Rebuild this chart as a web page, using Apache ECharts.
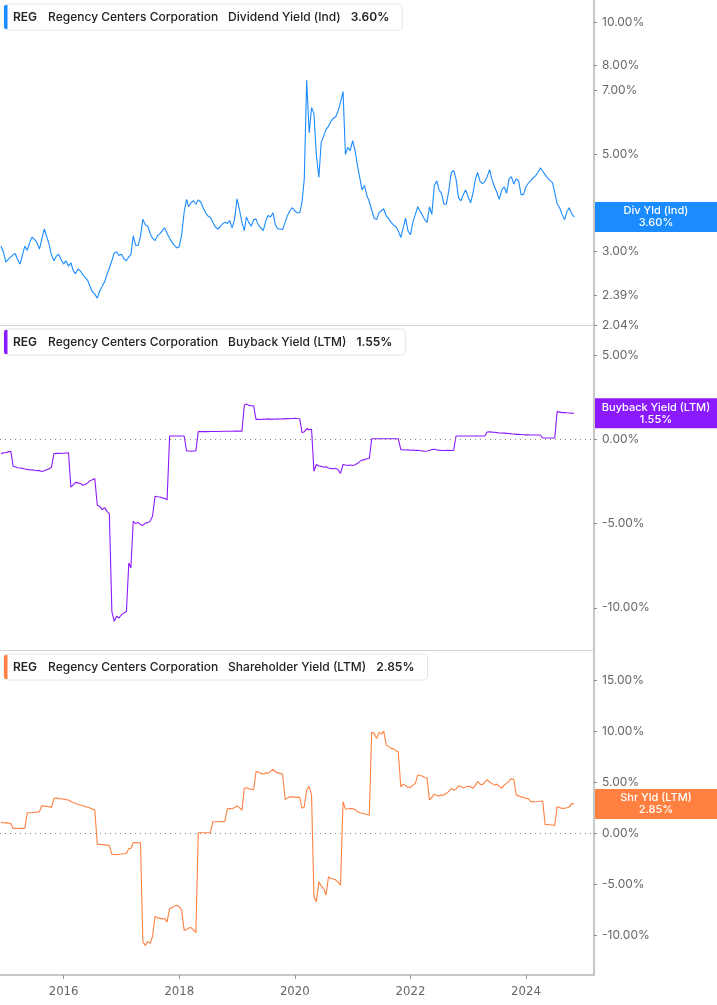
<!DOCTYPE html>
<html>
<head>
<meta charset="utf-8">
<script src="https://cdn.jsdelivr.net/npm/echarts@6/dist/echarts.min.js"></script>
<style>
html, body { margin: 0; padding: 0; background: #fff; }
#chart { width: 717px; height: 1005px; }
</style>
</head>
<body>
<div id="chart"></div>
<script>
// sample dates: 1st and 16th of each month, Dec 2014 .. Nov 2024
const dates = [];
for (let m = 0; m < 120; m++) {
    dates.push(Date.UTC(2014, 11 + m, 1));
    dates.push(Date.UTC(2014, 11 + m, 16));
}

// Dividend Yield (Ind), %
const divYield = [
    3.09, 3.00, 2.84, 2.88, 2.92, 2.95, 2.97, 2.88, 2.81, 2.95,
    3.09, 3.02, 3.15, 3.24, 3.20, 3.15, 3.04, 3.20, 3.38, 3.25,
    3.12, 2.95, 2.86, 2.93, 2.96, 2.88, 2.81, 2.86, 2.78, 2.83,
    2.72, 2.67, 2.74, 2.71, 2.66, 2.62, 2.58, 2.50, 2.43, 2.40,
    2.35, 2.44, 2.50, 2.56, 2.66, 2.75, 2.86, 2.98, 3.00, 2.94,
    2.96, 2.89, 2.86, 2.92, 2.95, 3.26, 3.10, 3.10, 3.25, 3.56,
    3.45, 3.43, 3.30, 3.22, 3.18, 3.26, 3.30, 3.35, 3.40, 3.30,
    3.22, 3.15, 3.10, 3.06, 3.08, 3.28, 3.70, 3.95, 3.80, 3.88,
    3.92, 3.85, 3.94, 3.90, 3.78, 3.68, 3.62, 3.59, 3.50, 3.42,
    3.38, 3.42, 3.47, 3.50, 3.48, 3.53, 3.40, 3.55, 3.96, 3.75,
    3.50, 3.35, 3.60, 3.50, 3.43, 3.55, 3.56, 3.45, 3.40, 3.35,
    3.52, 3.63, 3.60, 3.68, 3.45, 3.38, 3.38, 3.37, 3.50, 3.63,
    3.72, 3.78, 3.72, 3.68, 3.68, 3.90, 4.40, 7.39, 5.60, 6.40,
    6.20, 5.00, 4.43, 5.33, 5.50, 5.70, 5.80, 5.95, 6.05, 6.10,
    6.30, 6.58, 6.96, 5.00, 5.19, 5.10, 5.38, 5.10, 4.70, 4.40,
    4.15, 4.25, 4.03, 3.90, 3.74, 3.58, 3.55, 3.68, 3.72, 3.76,
    3.62, 3.57, 3.50, 3.45, 3.42, 3.35, 3.23, 3.40, 3.58, 3.35,
    3.28, 3.50, 3.65, 3.80, 3.72, 3.65, 3.55, 3.50, 3.80, 3.65,
    4.25, 4.35, 4.15, 4.08, 3.85, 3.85, 4.15, 4.55, 4.60, 4.40,
    3.98, 3.92, 4.05, 4.15, 4.00, 3.88, 4.10, 4.40, 4.55, 4.35,
    4.29, 4.33, 4.45, 4.62, 4.38, 4.22, 4.10, 3.95, 4.15, 4.22,
    4.08, 4.40, 4.45, 4.28, 4.40, 4.35, 4.05, 4.05, 4.22, 4.30,
    4.36, 4.42, 4.47, 4.55, 4.66, 4.58, 4.50, 4.42, 4.36, 4.32,
    4.10, 3.86, 3.78, 3.65, 3.55, 3.70, 3.78, 3.66, 3.60
];

// Buyback Yield (LTM), %
const buybackYield = [
    -0.85, -0.80, -0.78, -0.74, -0.70, -1.59, -1.62, -1.68, -1.70, -1.72,
    -1.76, -1.78, -1.82, -1.80, -1.83, -1.86, -1.84, -1.90, -1.86, -1.80,
    -1.75, -1.65, -0.85, -0.83, -0.83, -0.82, -0.82, -0.81, -0.80, -2.84,
    -2.70, -2.55, -2.58, -2.62, -2.72, -2.68, -2.58, -2.45, -2.40, -2.32,
    -3.91, -3.98, -4.17, -4.05, -4.27, -4.40, -10.22, -10.80, -10.50, -10.60,
    -10.40, -10.30, -10.22, -7.34, -7.63, -4.86, -5.00, -4.92, -5.06, -5.10,
    -4.96, -4.94, -4.85, -4.56, -3.37, -3.40, -3.42, -3.47, -3.50, -3.60,
    0.20, 0.20, 0.20, 0.20, 0.20, 0.20, 0.20, -0.69, -0.69, -0.70,
    -0.69, -0.69, 0.46, 0.46, 0.46, 0.46, 0.46, 0.47, 0.47, 0.47,
    0.47, 0.47, 0.48, 0.48, 0.48, 0.48, 0.48, 0.49, 0.49, 0.49,
    0.49, 2.04, 2.10, 2.02, 2.00, 2.00, 1.19, 1.20, 1.18, 1.21,
    1.20, 1.22, 1.19, 1.21, 1.20, 1.22, 1.21, 1.23, 1.22, 1.24,
    1.23, 1.24, 1.25, 1.24, 1.23, 0.40, 0.45, 0.64, 0.58, 0.60,
    -1.89, -1.49, -1.58, -1.60, -1.65, -1.62, -1.70, -1.72, -1.74, -1.72,
    -1.80, -2.02, -1.49, -1.52, -1.55, -1.52, -1.55, -1.50, -1.42, -1.30,
    -1.23, -1.20, -1.15, -1.13, 0.04, 0.04, 0.04, 0.04, 0.04, 0.04,
    0.04, 0.04, 0.04, 0.04, 0.04, 0.04, -0.60, -0.62, -0.63, -0.62,
    -0.64, -0.63, -0.65, -0.64, -0.66, -0.68, -0.70, -0.69, -0.66, -0.60,
    -0.58, -0.62, -0.64, -0.65, -0.66, -0.64, -0.65, -0.66, -0.66, 0.20,
    0.20, 0.20, 0.20, 0.20, 0.20, 0.20, 0.20, 0.20, 0.20, 0.20,
    0.20, 0.20, 0.44, 0.45, 0.43, 0.42, 0.40, 0.38, 0.38, 0.37,
    0.36, 0.35, 0.33, 0.32, 0.30, 0.30, 0.29, 0.28, 0.27, 0.27,
    0.26, 0.26, 0.26, 0.26, 0.26, 0.08, 0.08, 0.08, 0.08, 0.08,
    0.08, 1.65, 1.62, 1.59, 1.60, 1.58, 1.57, 1.56, 1.55
];

// Shareholder Yield (LTM), %
const shareholderYield = [
    1.05, 1.02, 1.00, 0.98, 0.95, 0.46, 0.46, 0.45, 0.46, 0.46,
    0.47, 1.99, 2.00, 2.02, 2.05, 2.06, 2.09, 2.68, 2.65, 2.62,
    2.58, 2.52, 3.40, 3.45, 3.38, 3.36, 3.32, 3.28, 3.24, 3.10,
    3.00, 2.90, 2.81, 2.75, 2.70, 2.58, 2.55, 2.45, 2.35, 2.28,
    -1.08, -1.10, -1.12, -1.15, -1.18, -1.20, -2.09, -2.10, -2.12, -2.08,
    -2.05, -2.02, -2.00, -1.50, -1.50, -0.95, -0.92, -0.94, -0.95, -10.66,
    -11.00, -10.60, -10.80, -10.10, -8.14, -8.30, -8.35, -8.40, -8.37, -8.69,
    -7.38, -7.30, -7.15, -7.06, -7.20, -7.55, -9.51, -9.45, -9.30, -9.25,
    -9.50, -9.74, 0.03, 0.03, 0.03, 0.03, 0.03, 0.03, 1.11, 1.11,
    1.12, 1.12, 1.13, 1.14, 2.38, 2.40, 2.38, 2.50, 2.65, 2.50,
    2.25, 4.38, 4.45, 4.35, 4.30, 4.25, 6.01, 6.00, 5.85, 5.79,
    5.90, 5.85, 6.05, 6.24, 6.00, 5.90, 5.85, 5.79, 3.30, 3.45,
    3.56, 3.55, 3.52, 3.50, 3.50, 2.42, 2.58, 4.22, 4.58, 3.70,
    -6.24, -6.73, -4.77, -5.20, -5.42, -6.08, -4.28, -4.44, -4.50, -4.60,
    -4.80, -5.10, 3.07, 2.35, 2.38, 2.42, 2.38, 2.30, 2.10, 1.99,
    1.95, 1.90, 1.82, 1.76, 9.87, 9.80, 9.28, 9.87, 9.70, 10.00,
    8.63, 8.50, 8.30, 8.25, 8.10, 7.97, 4.54, 4.80, 4.65, 4.50,
    4.48, 4.70, 4.87, 5.69, 5.65, 5.60, 5.45, 5.40, 3.24, 3.50,
    3.82, 3.70, 3.65, 3.72, 3.73, 3.90, 4.10, 4.38, 4.20, 4.30,
    4.64, 4.55, 4.45, 4.51, 4.60, 4.55, 4.40, 4.70, 5.08, 4.80,
    4.75, 5.00, 5.24, 5.00, 4.85, 4.70, 4.80, 4.60, 4.38, 4.70,
    4.90, 5.10, 5.36, 5.25, 3.73, 3.65, 3.55, 3.50, 3.40, 3.37,
    3.07, 3.10, 3.05, 3.10, 3.12, 3.14, 0.85, 0.84, 0.82, 0.80,
    0.76, 2.58, 2.50, 2.42, 2.45, 2.48, 2.55, 2.91, 2.85
];

const divTicks = [2.04, 2.39, 3, 5, 7, 8, 10];
const buybackTicks = [-10, -5, 0, 5];
const shrTicks = [-10, -5, 0, 5, 10, 15];
const yearTicks = [2016, 2018, 2020, 2022, 2024];

const panels = [
    { name: 'Dividend Yield (Ind)', short: 'Div Yld (Ind)', color: '#1a8cff', data: divYield, top: 0, legendTop: 4 },
    { name: 'Buyback Yield (LTM)', short: 'Buyback Yield (LTM)', color: '#8c1aff', data: buybackYield, top: 325, legendTop: 329 },
    { name: 'Shareholder Yield (LTM)', short: 'Shr Yld (LTM)', color: '#ff8040', data: shareholderYield, top: 650, legendTop: 654 }
];

const xMin = Date.UTC(2014, 10, 25);
const xMax = Date.UTC(2025, 2, 6);
const yearStarts = yearTicks.map(y => Date.UTC(y, 0, 1));
const pct = v => Number(v).toFixed(2) + '%';
const font = 'Inter, "Noto Sans", sans-serif';

// 量文字宽度
const measureCtx = document.createElement('canvas').getContext('2d');
function textWidth(text, f) {
    measureCtx.font = f;
    return measureCtx.measureText(text).width;
}

let myChart = echarts.init(document.getElementById('chart'));

function yAxisBase(gi, ticks) {
    return {
        gridIndex: gi,
        position: 'right',
        axisLine: { show: true, lineStyle: { color: '#b5b5b5', width: 1.5 } },
        axisTick: { show: true, customValues: ticks, length: 3, lineStyle: { color: '#888' } },
        axisLabel: { customValues: ticks, formatter: pct, color: '#666', fontSize: 12, fontFamily: font, margin: 8 },
        splitLine: { show: false }
    };
}

const yAxes = [
    Object.assign(yAxisBase(0, divTicks), { type: 'log', logBase: 10, min: 2.04, max: 11.27 }),
    Object.assign(yAxisBase(1, buybackTicks), { type: 'value', min: -12.5, max: 6.79 }),
    Object.assign(yAxisBase(2, shrTicks), { type: 'value', min: -13.9, max: 17.94 })
];

// x 轴用时间戳数值
const xAxes = panels.map((p, i) => ({
    gridIndex: i,
    type: 'value',
    min: xMin,
    max: xMax,
    axisLine: { show: true, onZero: false, lineStyle: { color: i === 2 ? '#b5b5b5' : '#d4d4d4', width: i === 2 ? 1.5 : 1 } },
    axisTick: { show: i === 2, length: 4, lineStyle: { color: '#999' }, customValues: yearStarts },
    axisLabel: {
        show: i === 2,
        customValues: yearStarts,
        formatter: v => String(new Date(v).getUTCFullYear()),
        color: '#666', fontSize: 13, fontWeight: 500,
        fontFamily: '"DejaVu Sans Condensed", "Liberation Sans Narrow", sans-serif',
        margin: 10
    },
    splitLine: { show: false }
}));

const series = panels.map((p, i) => {
    const s = {
        type: 'line',
        xAxisIndex: i,
        yAxisIndex: i,
        data: p.data.map((v, k) => [dates[k], v]),
        showSymbol: false,
        lineStyle: { color: p.color, width: 1.1 },
        itemStyle: { color: p.color },
        silent: true
    };
    if (i > 0) {
        s.markLine = {
            silent: true,
            symbol: 'none',
            label: { show: false },
            lineStyle: { color: '#888', type: [1, 4], width: 1 },
            data: [{ yAxis: 0 }]
        };
    }
    return s;
});

myChart.setOption({
    animation: false,
    grid: panels.map(p => ({ left: 0, right: 123, top: p.top, height: 325 })),
    xAxis: xAxes,
    yAxis: yAxes,
    series: series
});

// 图例框和右侧数值标签
const graphics = [];
panels.forEach((p, i) => {
    const last = p.data[p.data.length - 1];
    const ty = p.legendTop + 13;
    const parts = [
        { text: 'REG', w: 600, gap: 11 },
        { text: 'Regency Centers Corporation', w: 500, gap: 10 },
        { text: p.name, w: 500, gap: 10 },
        { text: pct(last), w: 600, gap: 0 }
    ];
    let x = 13;
    const texts = [];
    parts.forEach(t => {
        const f = t.w + ' 12px ' + font;
        texts.push({
            type: 'text', x: x, y: ty, z: 102,
            style: { text: t.text, fill: '#222', font: f, verticalAlign: 'middle' }
        });
        x += textWidth(t.text, f) + t.gap;
    });
    graphics.push({
        type: 'rect', shape: { x: 4, y: p.legendTop, width: x + 9, height: 26, r: 3 },
        style: { fill: '#fff', stroke: '#e6e6e6', lineWidth: 1 }, z: 100
    });
    graphics.push({
        type: 'rect', shape: { x: 4, y: p.legendTop + 1, width: 3.5, height: 24, r: [2, 0, 0, 2] },
        style: { fill: p.color }, z: 101
    });
    texts.forEach(t => graphics.push(t));

    const py = myChart.convertToPixel({ yAxisIndex: i }, last);
    graphics.push({
        type: 'rect', shape: { x: 595, y: py - 15, width: 122, height: 30 },
        style: { fill: p.color }, z: 100
    });
    graphics.push({
        type: 'text', x: 656, y: py, z: 101,
        style: {
            text: p.short + '\n' + pct(last), fill: '#fff', font: '500 11px ' + font,
            align: 'center', verticalAlign: 'middle', lineHeight: 12
        }
    });
});
myChart.setOption({ graphic: graphics });

//图表自适应
window.addEventListener('resize', function () {
    myChart.resize();
});
</script>
</body>
</html>
